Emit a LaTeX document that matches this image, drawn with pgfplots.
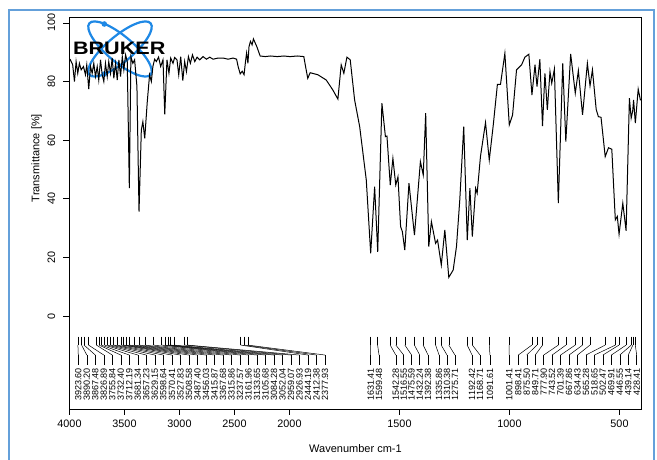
\documentclass[border=0pt]{standalone}
\usepackage{pgfplots}
\pgfplotsset{compat=1.18}
\usepackage{pgfplotstable}
\usepackage{fontspec}
\setmainfont{Liberation Sans}

% spectrum: wavenumber (cm-1) and transmittance (%)
\pgfplotstableread{
wn T
4000 87.0
3992 87.4
3971 85.7
3955 80.0
3940 86.8
3925 82.8
3910 86.2
3894 84.0
3873 85.1
3855 82.3
3843 85.7
3825 77.4
3809 85.1
3794 82.8
3779 86.2
3764 81.7
3748 85.1
3734 80.5
3718 87.4
3703 82.3
3688 80.0
3673 86.2
3657 81.7
3643 86.8
3627 82.8
3612 88.0
3597 81.1
3581 86.2
3566 80.5
3551 87.4
3536 81.7
3520 88.5
3506 84.0
3490 89.1
3475 86.8
3456 43.6
3442 88.5
3424 86.2
3408 87.4
3387 78.3
3368 35.6
3347 63.5
3333 66.3
3316 60.6
3293 73.1
3272 82.3
3256 80.0
3242 85.1
3226 87.6
3210 86.8
3190 88.3
3171 85.1
3150 87.4
3134 68.8
3114 87.4
3096 82.8
3080 88.0
3059 86.2
3044 88.2
3023 87.4
3007 82.3
2989 88.5
2970 80.3
2953 86.8
2937 83.4
2919 88.5
2901 86.2
2882 89.1
2861 86.8
2840 88.3
2816 87.4
2786 88.5
2755 87.6
2725 88.3
2695 87.6
2649 88.0
2603 88.0
2558 87.6
2512 88.0
2481 87.6
2467 85.1
2448 82.6
2430 83.5
2413 82.3
2400 86.8
2390 89.7
2378 86.2
2368 91.9
2355 93.7
2340 92.5
2328 94.5
2297 91.9
2267 88.7
2220 88.5
2175 88.7
2110 88.5
2050 88.7
2000 88.5
1995 88.5
1965 88.7
1935 88.5
1927 85.1
1917 81.1
1906 83.0
1871 82.3
1833 80.5
1803 77.1
1780 74.0
1765 85.7
1753 82.8
1739 88.3
1724 87.4
1704 73.7
1681 64.6
1651 46.4
1631 21.4
1613 44.1
1599 21.9
1580 72.6
1564 61.2
1557 61.4
1542 44.7
1530 53.8
1517 44.7
1507 47.5
1495 30.5
1487 28.8
1476 22.5
1457 45.3
1432 27.6
1405 52.7
1392 48.1
1381 69.2
1367 23.7
1355 32.2
1336 24.8
1327 25.9
1310 17.4
1294 29.4
1276 13.2
1256 15.7
1241 23.7
1226 39.6
1208 64.6
1192 25.9
1180 43.6
1169 27.1
1154 43.6
1147 41.9
1132 54.4
1109 66.0
1092 53.2
1074 65.0
1055 79.0
1041 79.0
1021 89.6
1001 65.2
986 68.6
968 84.0
945 85.7
930 88.3
912 89.3
898 75.4
884 85.7
875 78.3
862 87.6
850 64.8
839 82.8
828 70.3
816 83.4
808 79.4
796 84.2
778 38.5
758 86.2
744 59.5
722 89.4
701 76.0
687 83.7
668 68.6
646 86.2
634 78.5
623 84.0
606 70.5
596 68.0
584 67.8
565 54.4
550 57.4
535 56.9
519 32.8
510 34.0
502 27.9
485 38.5
470 29.1
455 74.3
447 67.5
440 70.0
436 73.7
428 65.8
415 77.4
405 73.7
400 73.7
}\spectrum

% peaks: wavenumber and position of the label (axis units)
\pgfplotstableread{
wn lp lab
3923.60 40.0 3923.60
3890.20 78.7 3890.20
3867.48 117.4 3867.48
3826.89 156.0 3826.89
3755.84 194.7 3755.84
3732.40 233.4 3732.40
3712.19 272.1 3712.19
3681.34 310.8 3681.34
3657.23 349.4 3657.23
3629.15 388.1 3629.15
3598.64 426.8 3598.64
3570.41 465.5 3570.41
3527.83 504.2 3527.83
3508.58 542.8 3508.58
3487.40 581.5 3487.40
3456.03 620.2 3456.03
3415.87 658.9 3415.87
3367.68 697.6 3367.68
3315.86 736.2 3315.86
3237.57 774.9 3237.57
3161.96 813.6 3161.96
3133.65 852.3 3133.65
3105.68 891.0 3105.68
3084.28 929.6 3084.28
3052.04 968.3 3052.04
2959.07 1007.0 2959.07
2926.93 1045.7 2926.93
2444.19 1084.4 2444.19
2412.38 1123.0 2412.38
2377.93 1161.7 2377.93
1631.41 1369 1631.41
1599.48 1407 1599.48
1542.28 1483 1542.28
1516.55 1519 1516.55
1475.59 1555 1475.59
1432.24 1592 1432.24
1392.38 1630 1392.38
1335.86 1680 1335.86
1310.38 1716 1310.38
1275.71 1752 1275.71
1192.42 1830 1192.42
1168.71 1866 1168.71
1091.61 1911 1091.61
1001.41 1998.6 1001.41
898.41 2040.0 898.41
875.50 2078.5 875.50
849.71 2116.9 849.71
777.90 2155.4 777.90
743.52 2193.8 743.52
701.39 2232.3 701.39
667.86 2270.7 667.86
634.43 2309.2 634.43
565.28 2347.6 565.28
518.65 2386.1 518.65
502.47 2424.5 502.47
469.91 2463.0 469.91
446.55 2501.4 446.55
439.14 2539.9 439.14
428.41 2578.3 428.41
}\peaks

% split wavenumber scale: 4000-2000 compressed by 2, 2000-400 normal
\pgfplotstablecreatecol[create col/expr={ifthenelse(\thisrow{wn}>2000,(4000-\thisrow{wn})/2,3000-\thisrow{wn})}]{p}{\spectrum}
\pgfplotstablecreatecol[create col/expr={ifthenelse(\thisrow{wn}>2000,(4000-\thisrow{wn})/2,3000-\thisrow{wn})}]{pp}{\peaks}
\pgfplotstablecreatecol[create col/expr={\thisrow{lp}-\thisrow{pp}}]{du}{\peaks}

\definecolor{logoblue}{RGB}{30,136,229}
\definecolor{frameblue}{RGB}{100,160,218}

\begin{document}
\begin{tikzpicture}[x=1pt,y=1pt]
\useasboundingbox (0,0) rectangle (657,460);
\draw[frameblue, line width=1.8pt] (9,-10) -- (9,450) -- (654,450) -- (654,-10);
% logo
\begin{scope}[shift={(120,411)}]
\draw[logoblue, line width=2.2pt, rotate=40] (0,0) ellipse (40 and 13);
\draw[logoblue, line width=2.2pt, rotate=-40] (0,0) ellipse (40 and 13);
\fill[logoblue] (-15.7,25) circle (2.8);
\fill[logoblue] (-15.7,-25) circle (2.8);
\node[font=\bfseries\fontsize{18}{18}\selectfont, xscale=1.2, inner sep=0pt] at (-0.8,0.2) {BRUKER};
\end{scope}
\begin{axis}[
  at={(69.5pt,51pt)}, anchor=south west,
  scale only axis, width=572pt, height=392pt,
  xmin=0, xmax=2600, ymin=-31.7, ymax=102,
  xtick={0,250,500,750,1000,1500,2000,2500},
  xticklabels={4000,3500,3000,2500,2000,1500,1000,500},
  ytick={0,20,40,60,80,100},
  xtick pos=lower, ytick pos=left,
  tick align=outside, major tick length=6pt,
  tick style={black, line width=0.6pt},
  axis line style={black, line width=0.6pt},
  /pgf/number format/assume math mode=true,
  ticklabel style={font=\fontsize{10.8}{12}\selectfont},
  yticklabel style={rotate=90, anchor=south, inner sep=0pt, yshift=8pt},
  xticklabel style={yshift=-1pt},
  xlabel={Wavenumber cm-1}, ylabel={Transmittance [\%]},
  every axis x label/.style={at={(axis description cs:0.5,0)}, anchor=center, yshift=-40pt, font=\fontsize{11}{13}\selectfont},
  every axis y label/.style={at={(axis description cs:0,0.640)}, rotate=90, anchor=center, yshift=33pt, font=\fontsize{11}{13}\selectfont},
  clip=false,
]
\addplot[black, line width=1pt, mark=none] table[x=p, y=T] {\spectrum};
% peak marker lines
\addplot[black, line width=0.5pt, no markers, quiver={u=0, v=-2.9}] table[x=pp, y expr=-7.0] {\peaks};
\addplot[black, line width=0.5pt, no markers, quiver={u=\thisrow{du}, v=-3.4}] table[x=pp, y expr=-9.9] {\peaks};
\addplot[black, line width=0.5pt, no markers, quiver={u=0, v=-3.3}] table[x=lp, y expr=-13.3] {\peaks};
% peak labels
\addplot[only marks, mark=none, point meta=explicit symbolic, nodes near coords,
  nodes near coords style={rotate=90, anchor=east, inner sep=0pt, font=\fontsize{9}{9}\selectfont}]
  table[x=lp, y expr=-17.8, meta=lab] {\peaks};
\end{axis}
\end{tikzpicture}
\end{document}
